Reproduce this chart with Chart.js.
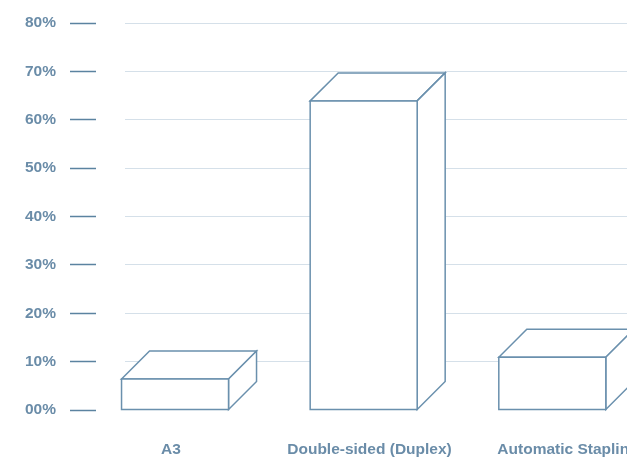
<!DOCTYPE html>
<html><head><meta charset="utf-8">
<script src="https://cdn.jsdelivr.net/npm/chart.js@4.4.0/dist/chart.umd.min.js"></script>
<style>
html,body{margin:0;padding:0;background:#fff;overflow:hidden;width:627px;height:459px}
#wrap{width:720px;height:459px;position:relative}
</style></head>
<body><div id="wrap"><canvas id="c" width="720" height="459"></canvas></div>
<script>
const categories = ['A3', 'Double-sided (Duplex)', 'Automatic Stapling'];
const values = [6.4, 63.9, 10.9];
const positions = [0, 1, 2];
const yTickValues = [0, 10, 20, 30, 40, 50, 60, 70, 80];

const LABEL = '#6a8ca8';
const GRID = '#d5e0e9';
const TICK = '#5b83a0';
const BOX = '#6a90ad';
const FONT = {family: '"Liberation Sans", Arial, Helvetica, sans-serif', size: 15.5, weight: 'bold'};

const box3d = {
  id: 'box3d',
  afterDatasetsDraw(chart) {
    const ctx = chart.ctx;
    const meta = chart.getDatasetMeta(0);
    const d = 28;
    ctx.save();
    ctx.lineWidth = 1.5;
    ctx.strokeStyle = BOX;
    ctx.fillStyle = '#ffffff';
    ctx.lineJoin = 'miter';
    meta.data.forEach(bar => {
      const {x, y, base, width} = bar.getProps(['x', 'y', 'base', 'width'], true);
      const l = x - width / 2, r = x + width / 2;
      ctx.beginPath();
      ctx.moveTo(l, y); ctx.lineTo(l + d, y - d); ctx.lineTo(r + d, y - d); ctx.lineTo(r, y); ctx.closePath();
      ctx.fill(); ctx.stroke();
      ctx.beginPath();
      ctx.moveTo(r, y); ctx.lineTo(r + d, y - d); ctx.lineTo(r + d, base - d); ctx.lineTo(r, base); ctx.closePath();
      ctx.fill(); ctx.stroke();
      ctx.beginPath();
      ctx.rect(l, y, width, base - y);
      ctx.fill(); ctx.stroke();
    });
    ctx.restore();
  }
};

new Chart(document.getElementById('c'), {
  type: 'bar',
  data: {
    datasets: [{
      data: positions.map((p, i) => ({x: p, y: values[i]})),
      backgroundColor: 'rgba(0,0,0,0)',
      borderWidth: 0,
      barThickness: 107,
      xAxisID: 'x'
    }]
  },
  options: {
    responsive: false,
    animation: false,
    events: [],
    layout: {padding: {left: 22, top: 23, right: 0, bottom: 1}},
    plugins: {legend: {display: false}, tooltip: {enabled: false}},
    scales: {
      x: {
        type: 'linear',
        display: false,
        offset: false,
        min: -0.419,
        max: 2.889
      },
      xl: {
        type: 'linear',
        position: 'bottom',
        offset: false,
        min: -0.378,
        max: 2.766,
        afterBuildTicks: s => { s.ticks = positions.map(v => ({value: v})); },
        afterFit: s => { s.height = 48; s.paddingLeft = 0; s.paddingRight = 0; },
        ticks: {
          callback: (v, i) => categories[i],
          color: LABEL,
          font: FONT,
          padding: 30,
          maxRotation: 0,
          autoSkip: false
        },
        grid: {display: false, drawTicks: false, offset: false},
        border: {display: false}
      },
      y: {
        min: 0,
        max: 80,
        afterBuildTicks: s => { s.ticks = yTickValues.map(v => ({value: v})); },
        afterFit: s => { s.width = 74; s.paddingTop = 0; s.paddingBottom = 0; },
        ticks: {
          callback: v => String(v).padStart(2, '0') + '%',
          color: LABEL,
          font: FONT,
          padding: 14
        },
        grid: {
          color: c => {
            if (c.tick && c.tick.value === 0) return 'rgba(0,0,0,0)';
            const ca = c.chart.chartArea;
            if (!ca) return GRID;
            const g = c.chart.ctx.createLinearGradient(ca.left, 0, ca.right, 0);
            const f = 29 / (ca.right - ca.left);
            g.addColorStop(0, 'rgba(255,255,255,0)');
            g.addColorStop(f, 'rgba(255,255,255,0)');
            g.addColorStop(f, GRID);
            g.addColorStop(1, GRID);
            return g;
          },
          lineWidth: 1,
          drawTicks: true,
          tickLength: 26,
          tickColor: TICK,
          tickWidth: 1.5
        },
        border: {display: false}
      }
    }
  },
  plugins: [box3d]
});
</script>
</body></html>
